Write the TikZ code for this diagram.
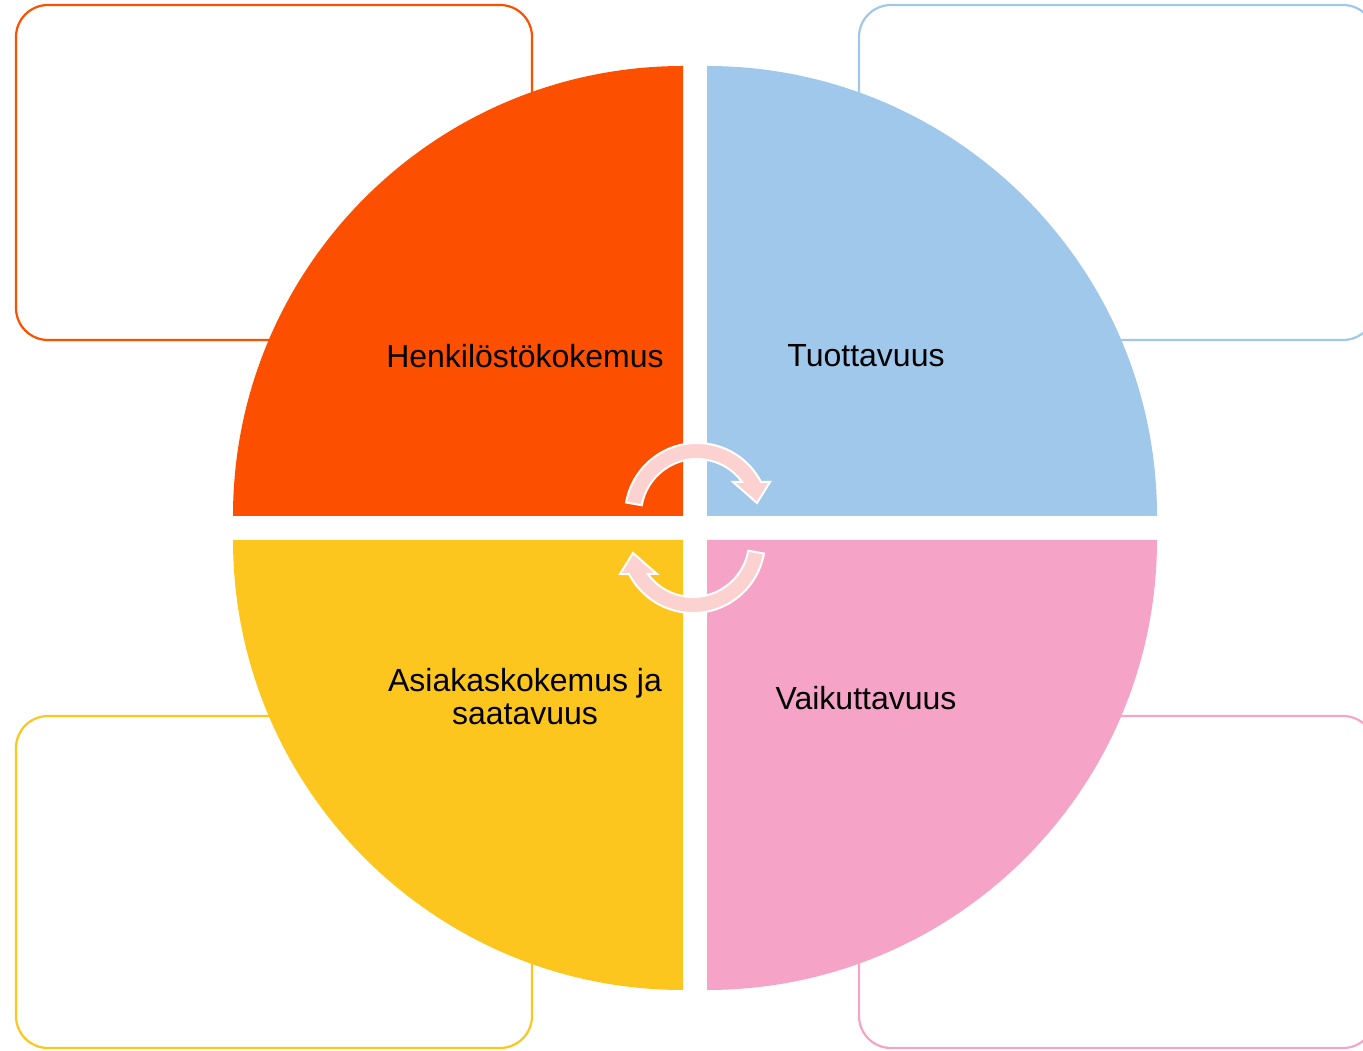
\documentclass[tikz,border=0pt]{standalone}
\usepackage{fontspec}
\setmainfont{Liberation Sans}
\definecolor{qorange}{HTML}{FC5000}
\definecolor{qblue}{HTML}{A0C8EA}
\definecolor{qyellow}{HTML}{FDC61E}
\definecolor{qpink}{HTML}{F5A4C8}
\definecolor{arrowfill}{HTML}{FCD2D0}
\begin{document}
\begin{tikzpicture}[x=1pt,y=1pt,
  notebox/.style={line width=2.2pt,rounded corners=32pt},
  label/.style={font=\fontsize{32}{33}\selectfont,align=center,text=black},
  cyclearrow/.style={fill=arrowfill,draw=white,line width=2pt,line join=miter}]
\useasboundingbox (0,0) rectangle (1363,1050);
\clip (0,0) rectangle (1363,1050);
% outer note boxes behind the circle
\draw[notebox,draw=qorange] (16,710) rectangle (532,1045);
\draw[notebox,draw=qblue] (859,710) rectangle (1375,1045);
\draw[notebox,draw=qyellow] (16,2) rectangle (532,334);
\draw[notebox,draw=qpink] (859,2) rectangle (1375,334);
% four quarter discs
\fill[qorange] (683,534) -- (233,534) arc[start angle=180,end angle=90,radius=450] -- cycle;
\fill[qblue] (707,534) -- (707,984) arc[start angle=90,end angle=0,radius=450] -- cycle;
\fill[qyellow] (683,510) -- (683,60) arc[start angle=270,end angle=180,radius=450] -- cycle;
\fill[qpink] (707,510) -- (1157,510) arc[start angle=0,end angle=-90,radius=450] -- cycle;
% labels
\node[label] (staff) at (525,694) {Henkilöstökokemus};
\node[label] (prod) at (866,694) {Tuottavuus};
\node[label] (cust) at (525,353) {Asiakaskokemus ja\\saatavuus};
\node[label] (impact) at (866,352) {Vaikuttavuus};
% circular arrows in the middle (the lower one is the upper one turned half round)
\tikzset{cyclepath/.pic={
  \draw[cyclearrow] (697,535) ++(170:72) arc[start angle=170,end angle=27.3,radius=72]
    -- (770,568) -- (757,547) -- (733,568) -- (742.2,568)
    arc[start angle=36.1,end angle=170,radius=56] -- cycle;}}
\pic (upper) at (0,0) {cyclepath};
\pic[rotate around={180:(695,522)}] (lower) at (0,0) {cyclepath};
\end{tikzpicture}
\end{document}
